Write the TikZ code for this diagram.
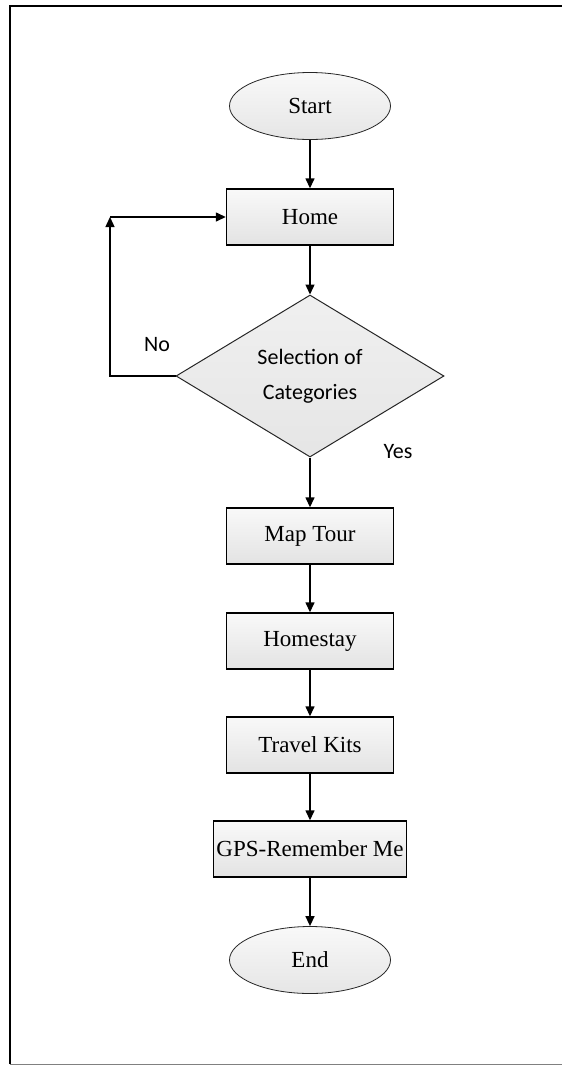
\documentclass[tikz,border=0pt]{standalone}
\usepackage{fontspec}
\setmainfont{Liberation Serif}
\newfontfamily\calfont{Carlito}
\usetikzlibrary{shapes.geometric,arrows.meta}

\begin{document}
\begin{tikzpicture}[x=1pt,y=-1pt,
  every node/.style={font=\fontsize{23}{33}\selectfont},
  procbox/.style={draw=black,line width=1.4pt,rectangle,
    top color=gray!5,bottom color=gray!22,
    minimum width=167pt,minimum height=56pt,inner sep=2pt},
  terminal/.style={draw=black!85,line width=0.8pt,ellipse,
    top color=gray!5,bottom color=gray!20,
    minimum width=161pt,minimum height=67pt,inner sep=0pt},
  decision/.style={draw=black!85,line width=1pt,diamond,aspect=1.65,
    top color=gray!12,bottom color=gray!20,
    minimum width=268pt,minimum height=162pt,inner sep=0pt,
    align=center,font=\calfont\fontsize{22}{35}\selectfont},
  flow/.style={line width=1.4pt,-{Triangle[length=10pt,width=9pt]}},
  lbl/.style={font=\calfont\fontsize{22}{26}\selectfont}]

  % page extent and frame
  \useasboundingbox (0,0) rectangle (562,1066);
  \draw[line width=2pt] (562,6) -- (9.5,6) -- (9.5,1064);
  \draw[gray,line width=1pt] (9.5,1064) -- (562,1064);

  % nodes of the flow
  \node[terminal] (start) at (310,106) {Start};
  \node[procbox]  (home)  at (310,217) {Home};
  \node[decision] (sel)   at (310,376) {Selection of\\Categories};
  \node[procbox]  (map)   at (310,536) {Map Tour};
  \node[procbox]  (stay)  at (310,641) {Homestay};
  \node[procbox]  (kits)  at (310,745) {Travel Kits};
  \node[procbox,minimum width=193pt] (gps) at (310,849) {GPS-Remember Me};
  \node[terminal] (end)   at (310,960) {End};

  \coordinate (loop) at (110,217);

  % connectors
  \draw[flow] (start) -- (home);
  \draw[flow] (home) -- (sel);
  \draw[flow] (sel) -- (map);
  \draw[flow] (map) -- (stay);
  \draw[flow] (stay) -- (kits);
  \draw[flow] (kits) -- (gps);
  \draw[flow] (gps) -- (end);
  \draw[flow] (sel.west) -| (loop);
  \draw[flow] (loop) -- (home.west);

  % branch labels
  \node[lbl] (no)  at (157,345) {No};
  \node[lbl] (yes) at (398,452) {Yes};
\end{tikzpicture}
\end{document}
